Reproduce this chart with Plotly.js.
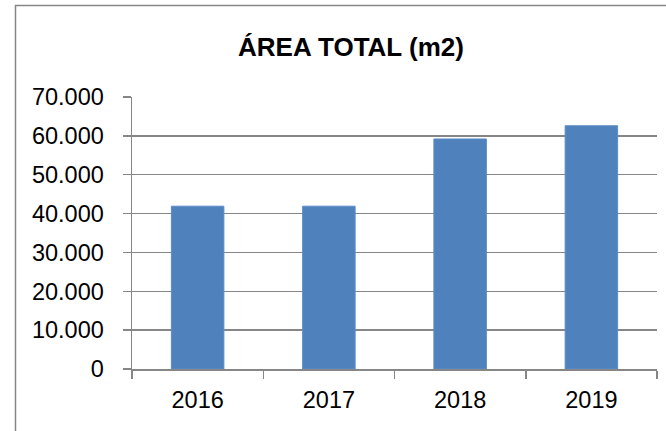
<!DOCTYPE html>
<html><head><meta charset="utf-8">
<script src="https://cdn.plot.ly/plotly-3.0.1.min.js"></script>
<style>html,body{margin:0;padding:0;background:#fff}</style>
</head><body>
<div id="chart" style="width:666px;height:431px"></div>
<script>
const years = ["2016", "2017", "2018", "2019"];
const areaTotal = [41900, 41900, 59200, 62600];
const yTicks = [0, 10000, 20000, 30000, 40000, 50000, 60000, 70000];
const chartTitle = "ÁREA TOTAL (m2)";

const L = 132, R = 9, T = 97, B = 62, W = 666, H = 431;
const pw = W - L - R, ph = H - T - B;
const px = v => (v - L) / pw, py = v => (H - B - v) / ph;

Plotly.newPlot("chart", [{
  type: "bar", x: years, y: areaTotal,
  marker: {color: "#4F81BD", line: {color: "#5B8CC8", width: 1}},
  width: 0.4, hoverinfo: "skip"
}], {
  width: W, height: H,
  margin: {l: L, r: R, t: T, b: B, pad: 0},
  paper_bgcolor: "#fff", plot_bgcolor: "#fff",
  separators: ",.",
  showlegend: false,
  title: {text: "<b>" + chartTitle + "</b>", x: 0.527, xanchor: "center", y: 1 - 47/H, yanchor: "middle",
          font: {family: "Liberation Sans, Arial, sans-serif", size: 26, color: "#000"}},
  xaxis: {type: "category", tickson: "boundaries", ticks: "outside", ticklen: 8, tickcolor: "#868686", tickwidth: 1.5,
          ticklabelstandoff: 9,
          showline: true, linecolor: "#868686", linewidth: 1.5, showgrid: false, zeroline: false,
          tickfont: {family: "Liberation Sans, Arial, sans-serif", size: 23.5, color: "#000"}, fixedrange: true},
  yaxis: {range: [0, 70000], tickvals: yTicks, tickformat: ",d", ticks: "outside", ticklen: 8, tickcolor: "#868686", tickwidth: 1.5,
          ticklabelstandoff: 14,
          showline: true, linecolor: "#868686", linewidth: 1.5, showgrid: true, gridcolor: "#868686", gridwidth: 1.5, zeroline: false,
          tickfont: {family: "Liberation Sans, Arial, sans-serif", size: 23.5, color: "#000"}, fixedrange: true},
  shapes: [{type: "rect", xref: "paper", yref: "paper", x0: px(15.5), x1: px(680), y0: py(440), y1: py(5.5),
            line: {color: "#868686", width: 1.5}, layer: "below"}]
}, {staticPlot: true});
</script>
</body></html>
